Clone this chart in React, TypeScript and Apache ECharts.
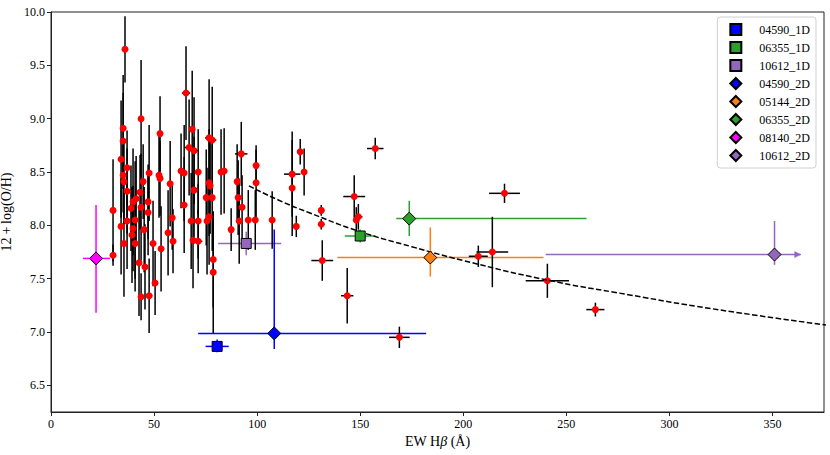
import { useEffect, useRef } from "react";
import * as echarts from "echarts";

// ---- red points (EW Hbeta, 12+log(O/H)) with symmetric errors ----
const pointX = [30.1,30.1,34.0,34.0,35.0,35.0,35.0,35.4,35.9,36.9,
  36.9,36.9,35.4,38.8,39.8,39.3,39.8,40.8,40.8,41.3,
  42.7,43.2,43.7,43.7,43.7,44.7,45.2,45.6,47.1,47.1,
  47.6,47.6,49.5,50.5,52.4,52.9,52.9,53.4,56.8,57.8,
  58.8,59.2,63.1,64.6,64.6,65.5,67.0,68.0,68.5,68.9,
  69.4,69.4,71.4,71.4,71.4,75.3,75.7,76.7,76.7,76.7,
  77.2,78.2,78.2,78.7,78.7,82.5,84.0,87.4,90.3,90.8,
  91.3,92.3,92.7,95.7,99.1,99.5,99.5,107.3,117.0,117.0,
  119.0,120.9,122.8,131.1,131.1,131.6,143.7,147.1,148.1,149.1,
  157.3,169.0,207.3,214.1,220.0,240.8,264.1];
const pointY = [8.14,7.72,8.62,7.99,8.91,8.79,8.47,8.41,9.65,8.54,
  8.32,8.04,7.83,8.16,8.22,7.91,7.97,8.05,7.83,8.25,
  7.65,8.31,9.00,8.17,7.33,8.41,7.96,7.61,8.22,8.12,
  8.49,7.34,7.83,7.46,8.47,8.44,8.86,7.78,7.93,8.39,
  8.07,7.85,8.51,8.49,8.19,9.24,8.73,8.04,8.90,7.86,
  8.70,8.33,8.50,8.04,7.85,8.26,8.04,8.82,8.40,8.08,
  8.37,8.80,8.26,7.68,7.56,8.50,8.51,7.96,8.41,8.26,
  8.04,8.67,8.17,8.05,8.05,8.56,8.40,8.05,8.48,8.35,
  7.99,8.69,8.50,8.14,8.01,7.67,7.34,8.27,8.05,8.08,
  8.72,6.95,7.71,7.75,8.30,7.48,7.21];
const pointYErr = [0.48,0.10,0.55,0.45,0.50,0.45,0.35,0.40,0.31,0.35,
  0.40,0.45,0.50,0.40,0.50,0.45,0.40,0.55,0.45,0.40,
  0.50,0.35,0.55,0.50,0.22,0.35,0.40,0.40,0.35,0.40,
  0.45,0.35,0.40,0.30,0.40,0.35,0.35,0.40,0.40,0.40,
  0.30,0.30,0.35,0.45,0.45,0.44,0.45,0.45,0.55,0.45,
  0.50,0.50,0.40,0.35,0.30,0.45,0.50,0.55,0.50,0.45,
  0.45,0.50,0.50,0.45,0.57,0.40,0.40,0.20,0.35,0.35,
  0.40,0.30,0.30,0.28,0.28,0.15,0.35,0.27,0.40,0.45,
  0.10,0.12,0.22,0.05,0.05,0.19,0.26,0.20,0.12,0.12,
  0.10,0.10,0.10,0.33,0.09,0.16,0.065];
const pointXErr = [0,0,0,0,0,0,0,0,0,0,
  0,0,0,0,0,0,0,0,0,0,
  0,0,0,0,1.5,0,0,0,0,0,
  0,1.5,1.5,0,0,0,0,0,0,0,
  0,0,0,0,0,2,2,0,0,0,
  2,0,0,0,2,0,0,2,0,0,
  0,2,0,0,0,0,0,0,0,0,
  0,3,0,0,0,0,0,0,4,0,
  0,0,0,1.5,1.5,5.3,3,5.3,0,2,
  4,5,4.6,7.7,7.5,10.5,4.4];

// ---- named objects ----
const specialNames = ["04590_1D","06355_1D","10612_1D","04590_2D","05144_2D","06355_2D","08140_2D","10612_2D"];
const specialX = [80.6, 150.0, 94.7, 108.3, 184.0, 173.8, 21.85, 351.0];
const specialY = [6.865, 7.90, 7.83, 6.987, 7.698, 8.063, 7.69, 7.726];
const specialXLow = [75.0, 142.5, 81.1, 71.4, 138.9, 167.5, 15.5, 240.0];
const specialXHigh = [86.2, 157.5, 111.7, 182.0, 238.9, 259.8, 28.6, 363.7];
const specialYLow = [6.81, 7.84, 7.72, 6.84, 7.52, 7.90, 7.18, 7.63];
const specialYHigh = [6.93, 7.96, 7.94, 7.96, 7.98, 8.23, 8.19, 8.04];
const specialXLowerLimit = [0, 0, 0, 0, 0, 0, 0, 1];

// style per object
const specialColors = ["#0000ff","#2ca02c","#9467bd","#0000ff","#ff7f0e","#2ca02c","#ff00ff","#9467bd"];
const specialSymbols = ["rect","rect","rect","diamond","diamond","diamond","diamond","diamond"];

// ---- dashed relation ----
const fitX = [96, 110, 125, 150, 175, 200, 240, 280, 320, 376];
const fitY = [8.37, 8.24, 8.12, 7.94, 7.80, 7.67, 7.49, 7.35, 7.22, 7.065];

// ---- ticks ----
const xTicks = [0, 50, 100, 150, 200, 250, 300, 350];
const yTicks = [6.5, 7.0, 7.5, 8.0, 8.5, 9.0, 9.5, 10.0];

const serif = "'Liberation Serif', 'DejaVu Serif', serif";

function errRenderer(colorOf: (i: number) => string) {
  return (params: any, api: any) => {
    const x = api.value(0), y = api.value(1);
    const xl = api.value(2), xh = api.value(3), yl = api.value(4), yh = api.value(5);
    const color = colorOf(api.value(6));
    const arrow = api.value(7);
    const style = { stroke: color, lineWidth: 1.5, fill: null };
    const ch: any[] = [];
    if (yh > yl) {
      const a = api.coord([x, yl]);
      const b = api.coord([x, yh]);
      ch.push({ type: "line", shape: { x1: a[0], y1: a[1], x2: b[0], y2: b[1] }, style });
    }
    if (xh > xl) {
      const a = api.coord([xl, y]);
      const b = api.coord([xh, y]);
      ch.push({ type: "line", shape: { x1: a[0], y1: a[1], x2: b[0], y2: b[1] }, style });
      if (arrow) {
        ch.push({
          type: "polygon",
          shape: { points: [[b[0], b[1]], [b[0] - 6, b[1] - 3], [b[0] - 6, b[1] + 3]] },
          style: { fill: color, stroke: color, lineWidth: 0.5 },
        });
      }
    }
    return { type: "group", children: ch };
  };
}

export default function App() {
  const ref = useRef<HTMLDivElement>(null);
  useEffect(() => {
    const chart = echarts.init(ref.current!, null, { renderer: "svg" });

    const pointErrData = pointX.map((x, i) => {
      const y = pointY[i];
      const ex = pointXErr[i] ?? 0;
      const ey = pointYErr[i] ?? 0;
      return [x, y, x - ex, x + ex, y - ey, y + ey, 0, 0];
    });
    const specialErrData = specialNames.map((_, i) => [
      specialX[i], specialY[i], specialXLow[i], specialXHigh[i],
      specialYLow[i], specialYHigh[i], i, specialXLowerLimit[i],
    ]);

    const series: any[] = [
      {
        type: "custom",
        name: "special errors",
        renderItem: errRenderer((i) => specialColors[i]),
        data: specialErrData,
        encode: { x: [0, 2, 3], y: [1, 4, 5] },
        z: 1,
        silent: true,
      },
      {
        type: "custom",
        name: "point errors",
        renderItem: errRenderer(() => "#000000"),
        data: pointErrData,
        encode: { x: [0, 2, 3], y: [1, 4, 5] },
        z: 2,
        silent: true,
      },
      {
        type: "scatter",
        name: "points",
        data: pointX.map((x, i) => [x, pointY[i]]),
        symbol: "circle",
        symbolSize: 7,
        itemStyle: { color: "#ff0000", borderWidth: 0, opacity: 1 },
        z: 3,
      },
      {
        type: "line",
        name: "relation",
        data: fitX.map((x, i) => [x, fitY[i]]),
        smooth: true,
        showSymbol: false,
        symbol: "none",
        lineStyle: { color: "#000", width: 1.5, type: [5.5, 2.4] },
        z: 4,
      },
      ...specialNames.map((n, i) => ({
        type: "scatter",
        name: n,
        data: [[specialX[i], specialY[i]]],
        symbol: specialSymbols[i],
        symbolSize: specialSymbols[i] === "rect" ? 10 : 13,
        itemStyle: { color: specialColors[i], borderColor: "#000", borderWidth: 1, opacity: 1 },
        z: 5,
      })),
    ];

    chart.setOption({
      animation: false,
      backgroundColor: "#ffffff",
      grid: {
        left: 51, right: 6, top: 12, bottom: 43,
        containLabel: false,
        outerBoundsMode: "none",
        show: true, borderColor: "#222", borderWidth: 1, backgroundColor: "transparent",
      },
      legend: {
        data: specialNames.map((n, i) => ({ name: n, icon: specialSymbols[i] })),
        orient: "vertical",
        right: 14,
        top: 17,
        itemWidth: 11,
        itemHeight: 11,
        itemGap: 5,
        padding: [6, 6, 6, 12],
        backgroundColor: "rgba(255,255,255,0.85)",
        borderColor: "#d0d0d0",
        borderWidth: 1,
        borderRadius: 3,
        textStyle: { fontFamily: serif, fontSize: 12, color: "#000", padding: [0, 0, 0, 13] },
        selectedMode: false,
      },
      xAxis: {
        type: "value",
        min: 0,
        max: 375,
        name: "EW H{i|β} (Å)",
        nameLocation: "middle",
        nameGap: 21,
        nameTextStyle: {
          fontFamily: serif, fontSize: 14, color: "#000",
          rich: { i: { fontFamily: serif, fontSize: 14, fontStyle: "italic", color: "#000" } },
        },
        axisLine: { show: true, onZero: false, lineStyle: { color: "#222", width: 1 } },
        axisTick: { show: true, inside: false, length: 4, lineStyle: { color: "#222" }, customValues: xTicks },
        axisLabel: {
          fontFamily: serif, fontSize: 12, color: "#000", margin: 6,
          customValues: xTicks,
          formatter: (v: number) => String(Math.round(v)),
        },
        splitLine: { show: false },
      },
      yAxis: {
        type: "value",
        min: 6.25,
        max: 10.0,
        name: "12\u2009+\u2009log(O/H)",
        nameLocation: "middle",
        nameGap: 26,
        nameRotate: 90,
        nameTextStyle: { fontFamily: serif, fontSize: 14, color: "#000" },
        axisLine: { show: true, onZero: false, lineStyle: { color: "#222", width: 1 } },
        axisTick: { show: true, inside: false, length: 4, lineStyle: { color: "#222" }, customValues: yTicks },
        axisLabel: {
          fontFamily: serif, fontSize: 12, color: "#000", margin: 6,
          customValues: yTicks,
          formatter: (v: number) => v.toFixed(1),
        },
        splitLine: { show: false },
      },
      series,
    });

    return () => chart.dispose();
  }, []);

  return (
    <div
      ref={ref}
      style={{ position: "fixed", left: 0, top: 0, width: 830, height: 455, background: "#fff" }}
    />
  );
}
